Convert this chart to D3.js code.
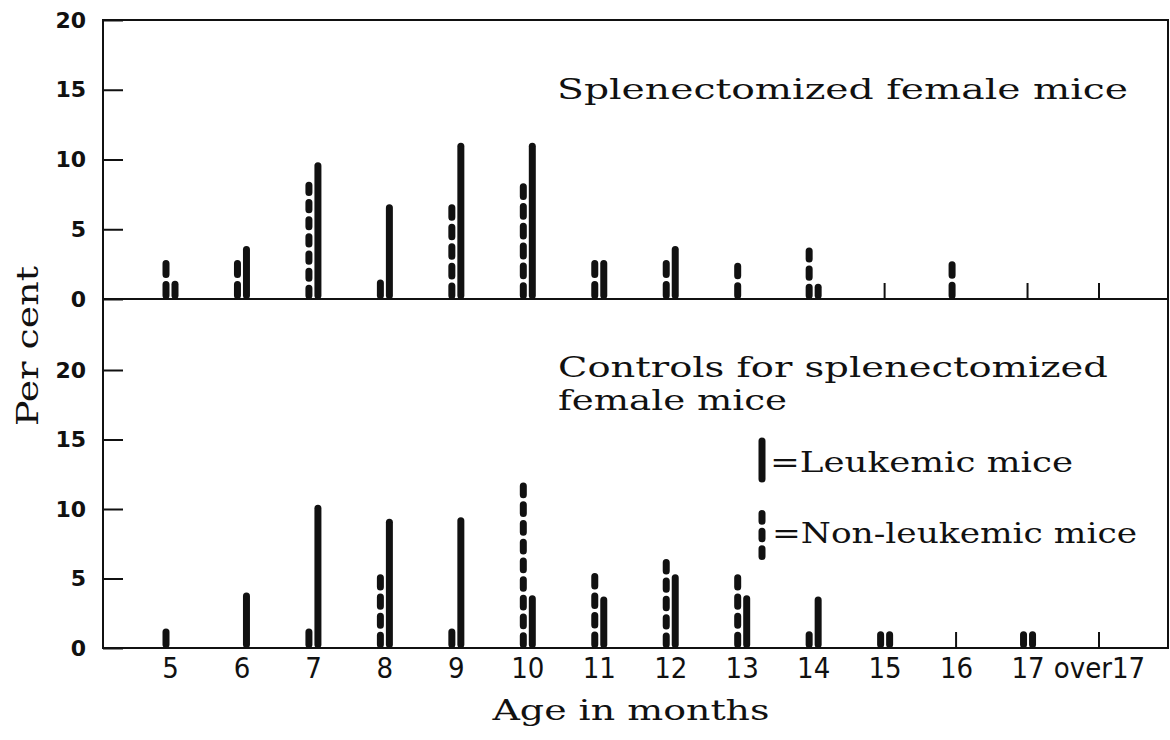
<!DOCTYPE html>
<html>
<head>
<meta charset="utf-8">
<script src="https://cdn.jsdelivr.net/npm/d3@7"></script>
<style>
  body { margin: 0; background: #fff; }
  text { fill: #111; }
</style>
</head>
<body>
<div id="container"></div>
<script>
/* DATA */
const months = ["5","6","7","8","9","10","11","12","13","14","15","16","17","over17"];
// splenectomized female mice (per cent)
const splenLeuk    = [1.3, 3.8, 9.8, 6.8, 11.2, 11.2, 2.8, 3.8, 0,   1.1, 0, 0,   0, 0];
const splenNonLeuk = [2.8, 2.8, 8.4, 1.4, 6.8,  8.3,  2.8, 2.8, 2.6, 3.7, 0, 2.7, 0, 0];
// controls for splenectomized female mice (per cent)
const ctrlLeuk     = [0,   4.0, 10.3, 9.3, 9.4, 3.8,  3.7, 5.3, 3.8, 3.7, 1.2, 0, 1.2, 0];
const ctrlNonLeuk  = [1.4, 0,   1.4,  5.3, 1.4, 11.9, 5.4, 6.4, 5.3, 1.2, 1.2, 0, 1.2, 0];
const yTicks = [0, 5, 10, 15, 20];

/* CONSTANTS */
const width = 1170, height = 740;
const plotL = 103, plotR = 1168, plotT = 20, plotM = 299, plotB = 648;

const svg = d3.select("#container")
  .append("svg")
  .attr("width", width)
  .attr("height", height);

/* SCALES */
const xScale = d3.scalePoint()
  .domain(months)
  .range([170, 1099]);

const yTop = d3.scaleLinear().domain([0, 20]).range([plotM, plotT]);
const yBot = d3.scaleLinear().domain([0, 20]).range([plotB, 370]);

const panels = [
  {y: yTop, leuk: splenLeuk, non: splenNonLeuk},
  {y: yBot, leuk: ctrlLeuk, non: ctrlNonLeuk}
];

/* FRAME */
const frame = svg.append("g")
  .attr("fill", "none")
  .attr("stroke", "#111")
  .attr("stroke-width", 2);
frame.append("rect")
  .attr("x", plotL).attr("y", plotT)
  .attr("width", plotR - plotL).attr("height", plotB - plotT);
frame.append("line")
  .attr("x1", plotL).attr("x2", plotR)
  .attr("y1", plotM).attr("y2", plotM);

/* AXES */
panels.forEach(p => {
  const ax = svg.append("g")
    .attr("transform", `translate(${plotL},0)`)
    .call(d3.axisLeft(p.y).tickValues(yTicks).tickSize(-20).tickPadding(17));
  ax.select(".domain").remove();
  ax.selectAll("line").attr("stroke", "#111").attr("stroke-width", 2);
  ax.selectAll("text")
    .style("font-family", "DejaVu Sans")
    .style("font-weight", "bold")
    .style("font-size", "22px")
    .attr("fill", "#111");

  // small ticks only where the panel has no bars
  svg.append("g")
    .selectAll("line")
    .data(months.filter((m, i) => !p.leuk[i] && !p.non[i]))
    .join("line")
    .attr("x1", d => xScale(d)).attr("x2", d => xScale(d))
    .attr("y1", p.y(0)).attr("y2", p.y(0) - 16)
    .attr("stroke", "#111")
    .attr("stroke-width", 2);
});

const xAx = svg.append("g")
  .attr("transform", `translate(0,${plotB})`)
  .call(d3.axisBottom(xScale).tickSize(0).tickPadding(9));
xAx.select(".domain").remove();
xAx.selectAll("text")
  .style("font-family", "'Liberation Sans Narrow', 'DejaVu Sans Condensed', 'Liberation Sans'")
  .style("font-size", "29px")
  .attr("fill", "#111");

/* BARS */
const solidW = 7, dashW = 7, gap = 3, period = 18;

// fit whole dashes into a bar of pixel length L
function dashFor(L) {
  const n = Math.max(1, Math.round(L / period));
  const g = gap + dashW;
  const d = Math.max(0.1, (L - dashW - (n - 1) * g) / n);
  return `${d},${g}`;
}

panels.forEach(p => {
  // non-leukemic: dashed
  svg.append("g")
    .selectAll("line")
    .data(months.map((m, i) => ({m, v: p.non[i]})).filter(d => d.v > 0))
    .join("line")
    .attr("x1", d => xScale(d.m) - 4).attr("x2", d => xScale(d.m) - 4)
    .attr("y1", d => p.y(d.v) + dashW / 2)
    .attr("y2", p.y(0) - dashW / 2)
    .attr("stroke", "#111")
    .attr("stroke-width", dashW)
    .attr("stroke-linecap", "round")
    .attr("stroke-dasharray", d => dashFor(p.y(0) - p.y(d.v)));

  // leukemic: solid
  svg.append("g")
    .selectAll("line")
    .data(months.map((m, i) => ({m, v: p.leuk[i]})).filter(d => d.v > 0))
    .join("line")
    .attr("x1", d => xScale(d.m) + 5).attr("x2", d => xScale(d.m) + 5)
    .attr("y1", p.y(0) - solidW / 2)
    .attr("y2", d => p.y(d.v) + solidW / 2)
    .attr("stroke", "#111")
    .attr("stroke-width", solidW)
    .attr("stroke-linecap", "round");
});

/* TEXT */
const title = (txt, x, y, len) => svg.append("text")
  .attr("x", x).attr("y", y)
  .attr("textLength", len)
  .attr("lengthAdjust", "spacingAndGlyphs")
  .style("font-family", "DejaVu Serif")
  .style("font-size", "28px")
  .text(txt);

title("Splenectomized female mice", 557, 99, 571);
title("Controls for splenectomized", 558, 377, 550);
title("female mice", 558, 410, 229);

// legend
svg.append("line")
  .attr("x1", 762).attr("x2", 762)
  .attr("y1", 441).attr("y2", 479)
  .attr("stroke", "#111").attr("stroke-width", solidW)
  .attr("stroke-linecap", "round");
svg.append("line")
  .attr("x1", 762).attr("x2", 762)
  .attr("y1", 513.5).attr("y2", 556.5)
  .attr("stroke", "#111").attr("stroke-width", dashW)
  .attr("stroke-linecap", "round")
  .attr("stroke-dasharray", dashFor(50));
title("=Leukemic mice", 770, 472, 303);
title("=Non-leukemic mice", 772, 543, 365);

svg.append("text")
  .attr("x", 631).attr("y", 720)
  .attr("text-anchor", "middle")
  .attr("textLength", 277)
  .attr("lengthAdjust", "spacingAndGlyphs")
  .style("font-family", "DejaVu Serif")
  .style("font-size", "28px")
  .text("Age in months");

svg.append("text")
  .attr("transform", "translate(38,346) rotate(-90)")
  .attr("text-anchor", "middle")
  .attr("textLength", 160)
  .attr("lengthAdjust", "spacingAndGlyphs")
  .style("font-family", "DejaVu Serif")
  .style("font-size", "30px")
  .text("Per cent");
</script>
</body>
</html>
